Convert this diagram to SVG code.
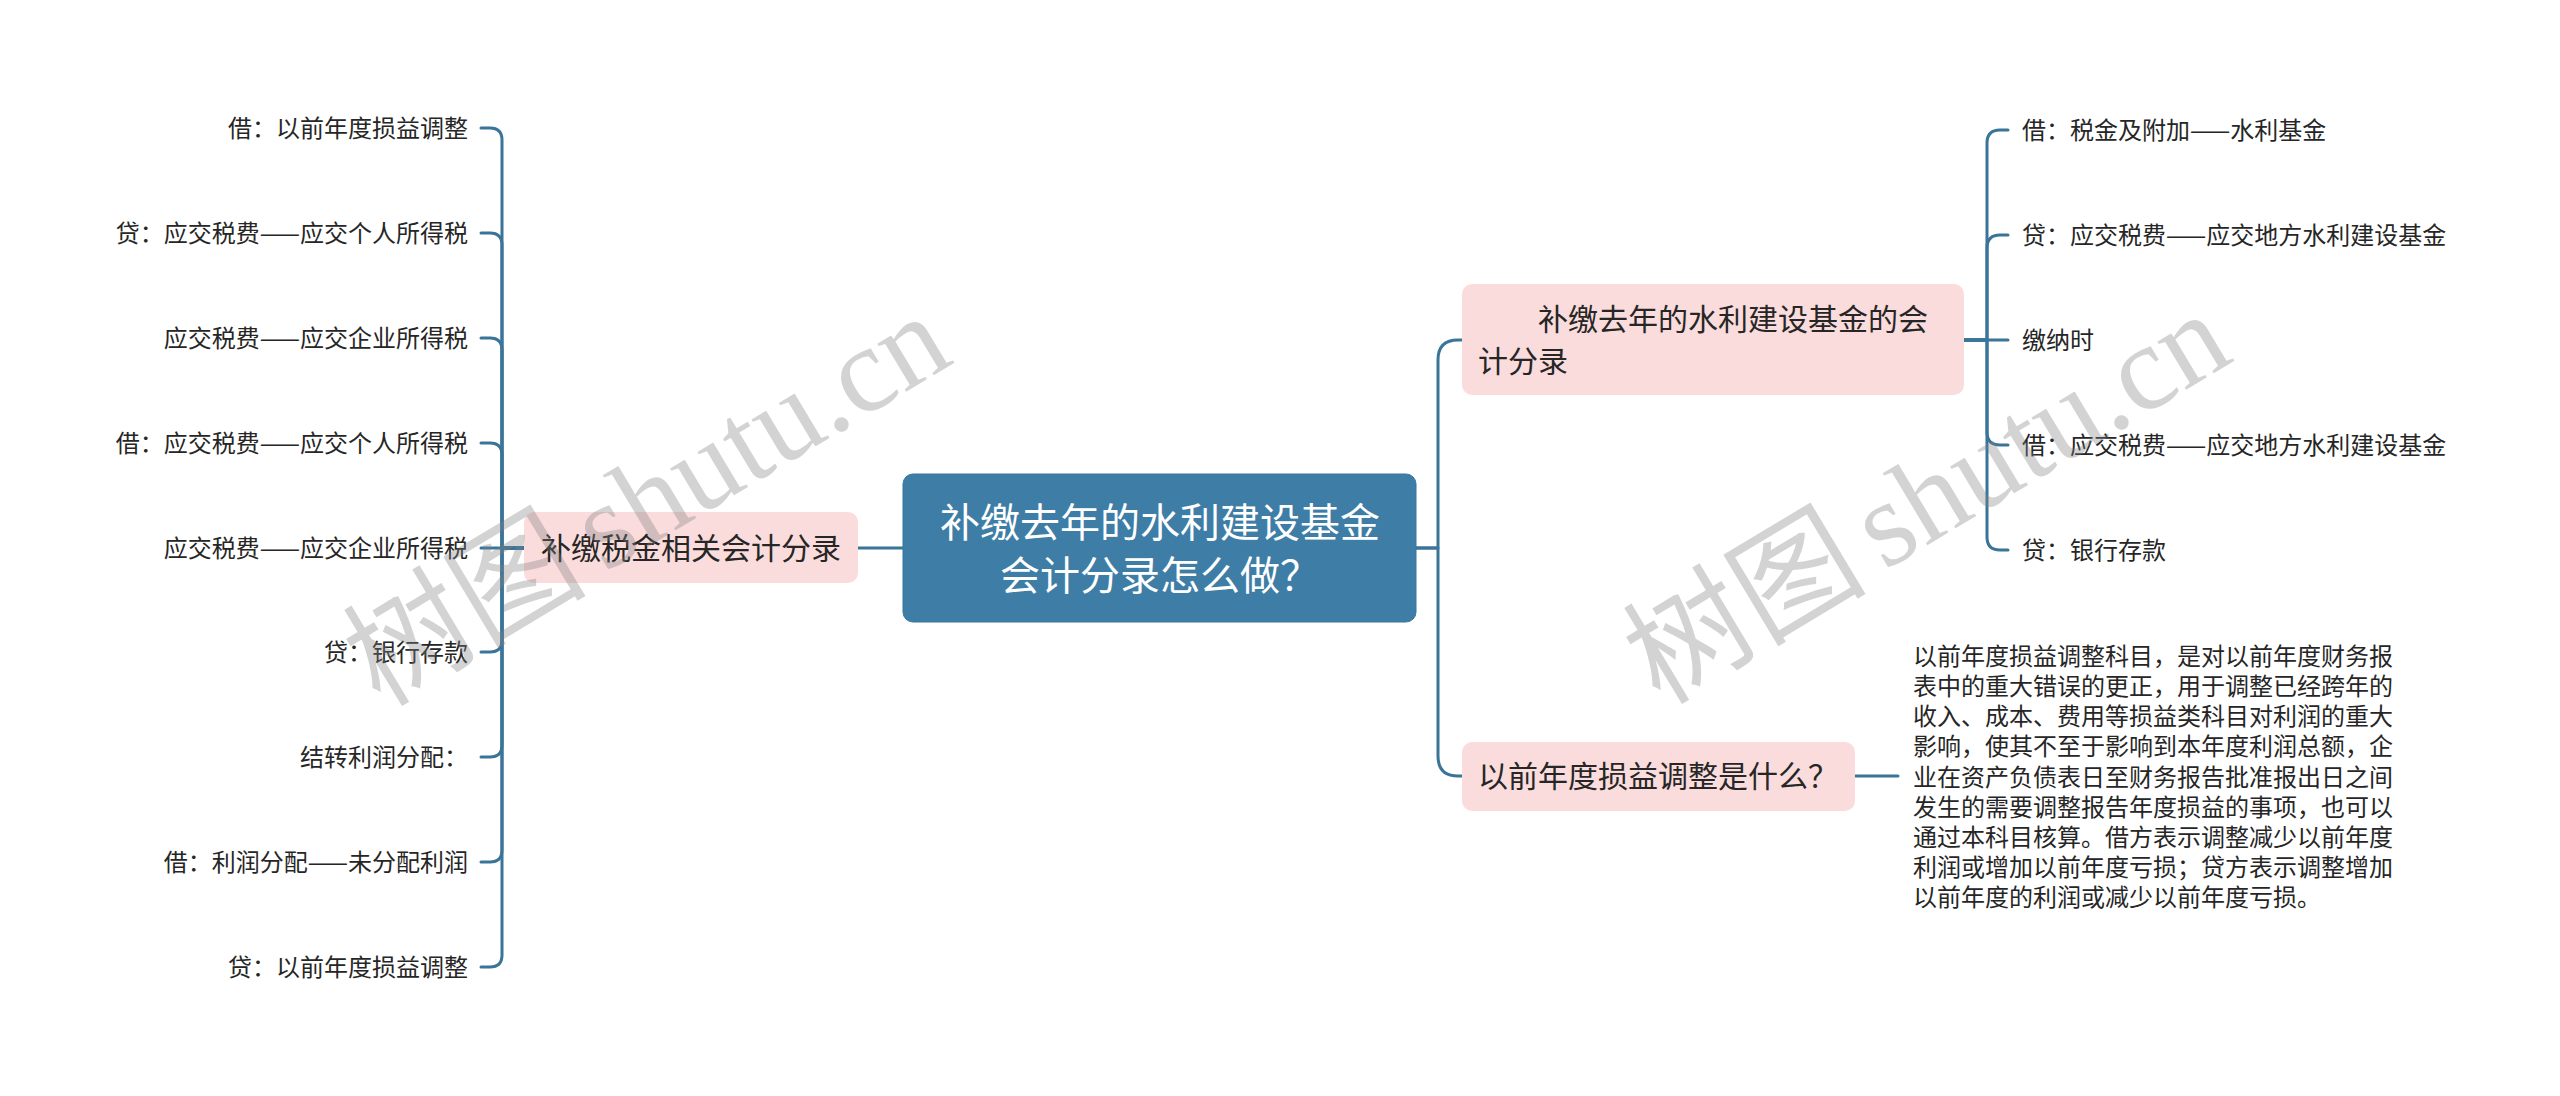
<svg xmlns="http://www.w3.org/2000/svg" width="2560" height="1096" viewBox="0 0 2560 1096">
<style>
.bg{fill:#ffffff}
.conn{fill:none;stroke:#3b7499;stroke-width:3;stroke-linecap:round;stroke-linejoin:round}
.root{fill:#3e7da6;stroke:#3a779e;stroke-width:1}
.sub{fill:#fadcdc}
.t{font-family:"Noto Sans CJK SC","Noto Sans",sans-serif;fill:#262626}
.rt{font-family:"Noto Sans CJK SC","Noto Sans",sans-serif;fill:#ffffff;font-size:40px}
.st{font-size:30px}
.lt{font-size:24px}
.wm{fill:#808080;fill-opacity:0.35;font-size:122px}
</style>
<rect class="bg" x="0" y="0" width="2560" height="1096"/>
<g id="connectors">
<path class="conn" d="M903,548 H858"/>
<path class="conn" d="M524,548 H502 V140 Q502,128 490,128 H481"/>
<path class="conn" d="M524,548 H502 V245 Q502,233 490,233 H481"/>
<path class="conn" d="M524,548 H502 V350 Q502,338 490,338 H481"/>
<path class="conn" d="M524,548 H502 V455 Q502,443 490,443 H481"/>
<path class="conn" d="M524,548 H481"/>
<path class="conn" d="M524,548 H502 V640 Q502,652 490,652 H481"/>
<path class="conn" d="M524,548 H502 V745 Q502,757 490,757 H481"/>
<path class="conn" d="M524,548 H502 V850 Q502,862 490,862 H481"/>
<path class="conn" d="M524,548 H502 V955 Q502,967 490,967 H481"/>
<path class="conn" d="M1416,548 H1438 V360 Q1438,340 1458,340 H1462"/>
<path class="conn" d="M1416,548 H1438 V756 Q1438,776 1458,776 H1462"/>
<path class="conn" d="M1964,340 H1987 V143 Q1987,130 2000,130 H2008"/>
<path class="conn" d="M1964,340 H1987 V248 Q1987,235 2000,235 H2008"/>
<path class="conn" d="M1964,340 H2008"/>
<path class="conn" d="M1964,340 H1987 V432 Q1987,445 2000,445 H2008"/>
<path class="conn" d="M1964,340 H1987 V537 Q1987,550 2000,550 H2008"/>
<path class="conn" d="M1855,776 H1898"/>
</g>
<g id="root">
<rect class="root" x="903" y="474" width="513" height="148" rx="10"/>
<text class="rt" x="1160" y="537" text-anchor="middle">补缴去年的水利建设基金</text>
<text class="rt" x="1160" y="590" text-anchor="middle">会计分录怎么做？</text>
</g>
<g id="left-branch">
<rect class="sub" x="524" y="512" width="334" height="71" rx="10"/>
<text class="t st" x="691" y="559" text-anchor="middle">补缴税金相关会计分录</text>
</g>
<g id="left-leaves" class="t lt" text-anchor="end">
<text id="l1" x="468" y="137">借：以前年度损益调整</text>
<text id="l2" x="468" y="242">贷：应交税费——应交个人所得税</text>
<text id="l3" x="468" y="347">应交税费——应交企业所得税</text>
<text id="l4" x="468" y="452">借：应交税费——应交个人所得税</text>
<text id="l5" x="468" y="557">应交税费——应交企业所得税</text>
<text id="l6" x="468" y="661">贷：银行存款</text>
<text id="l7" x="468" y="766">结转利润分配：</text>
<text id="l8" x="468" y="871">借：利润分配——未分配利润</text>
<text id="l9" x="468" y="976">贷：以前年度损益调整</text>
</g>
<g id="right-branch-1">
<rect class="sub" x="1462" y="284" width="502" height="111" rx="10"/>
<text class="t st" x="1478" y="330">　　补缴去年的水利建设基金的会</text>
<text class="t st" x="1478" y="372">计分录</text>
</g>
<g id="right-leaves" class="t lt">
<text id="r1" x="2022" y="139">借：税金及附加——水利基金</text>
<text id="r2" x="2022" y="244">贷：应交税费——应交地方水利建设基金</text>
<text id="r3" x="2022" y="349">缴纳时</text>
<text id="r4" x="2022" y="454">借：应交税费——应交地方水利建设基金</text>
<text id="r5" x="2022" y="559">贷：银行存款</text>
</g>
<g id="right-branch-2">
<rect class="sub" x="1462" y="742" width="393" height="69" rx="10"/>
<text class="t st" x="1478" y="787">以前年度损益调整是什么？</text>
</g>
<g id="note" class="t lt">
<text x="1913" y="665">以前年度损益调整科目，是对以前年度财务报</text>
<text x="1913" y="695">表中的重大错误的更正，用于调整已经跨年的</text>
<text x="1913" y="725">收入、成本、费用等损益类科目对利润的重大</text>
<text x="1913" y="755">影响，使其不至于影响到本年度利润总额，企</text>
<text x="1913" y="786">业在资产负债表日至财务报告批准报出日之间</text>
<text x="1913" y="816">发生的需要调整报告年度损益的事项，也可以</text>
<text x="1913" y="846">通过本科目核算。借方表示调整减少以前年度</text>
<text x="1913" y="876">利润或增加以前年度亏损；贷方表示调整增加</text>
<text x="1913" y="906">以前年度的利润或减少以前年度亏损。</text>
</g>
<g id="watermarks">
<text class="wm" transform="translate(380,708) rotate(-31)"><tspan font-family="'Noto Sans CJK SC',sans-serif">树图</tspan><tspan font-family="'Liberation Serif',serif" dx="18">shutu.cn</tspan></text>
<text class="wm" transform="translate(1660,706) rotate(-31)"><tspan font-family="'Noto Sans CJK SC',sans-serif">树图</tspan><tspan font-family="'Liberation Serif',serif" dx="18">shutu.cn</tspan></text>
</g>
</svg>
